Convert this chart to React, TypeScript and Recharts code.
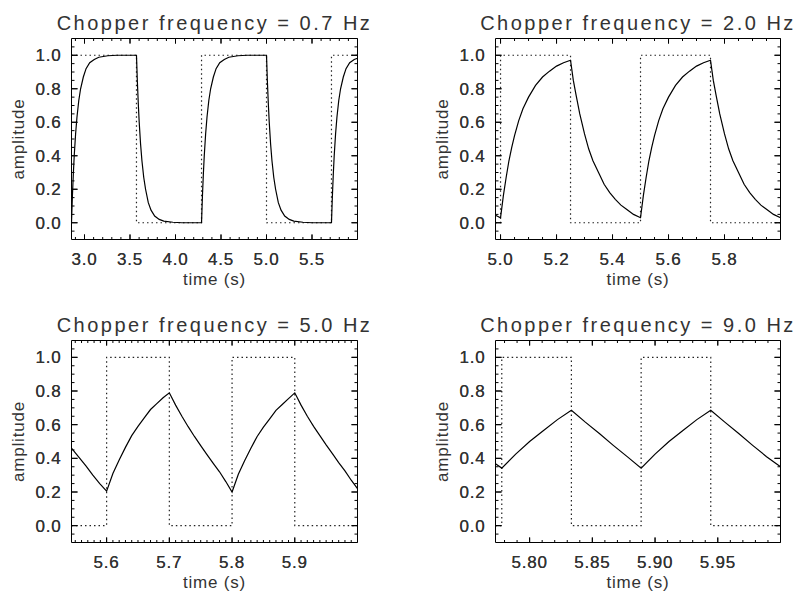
import React from "react";
import { LineChart, Line, XAxis, YAxis, Label } from "recharts";

// ---- values ----

// 0.7 Hz
const p1Time = [
  2.857, 2.867, 2.877, 2.887, 2.902, 2.917, 2.937, 2.957, 2.987, 3.017, 3.057, 3.107, 3.157, 3.257, 3.357, 3.571,
  3.581, 3.591, 3.601, 3.616, 3.631, 3.651, 3.671, 3.701, 3.731, 3.771, 3.821, 3.871, 3.971, 4.071, 4.286,
  4.296, 4.306, 4.316, 4.331, 4.346, 4.366, 4.386, 4.416, 4.446, 4.486, 4.536, 4.586, 4.686, 4.786, 5.0,
  5.01, 5.02, 5.03, 5.045, 5.06, 5.08, 5.1, 5.13, 5.16, 5.2, 5.25, 5.3, 5.4, 5.5, 5.714,
  5.724, 5.734, 5.744, 5.759, 5.774, 5.794, 5.814, 5.844, 5.874, 5.914, 5.964, 6.0,
];
const p1Signal = [
  0, 0.16, 0.29, 0.4, 0.53, 0.63, 0.73, 0.8, 0.87, 0.92, 0.955, 0.975, 0.988, 0.997, 1.0, 1.0,
  0.84, 0.71, 0.6, 0.47, 0.37, 0.27, 0.2, 0.12, 0.075, 0.04, 0.02, 0.01, 0.003, 0.0, 0.0,
  0.16, 0.29, 0.4, 0.53, 0.63, 0.73, 0.8, 0.87, 0.92, 0.955, 0.975, 0.988, 0.997, 1.0, 1.0,
  0.84, 0.71, 0.6, 0.47, 0.37, 0.27, 0.2, 0.12, 0.075, 0.04, 0.02, 0.01, 0.003, 0.0, 0.0,
  0.16, 0.29, 0.4, 0.53, 0.63, 0.73, 0.8, 0.87, 0.92, 0.955, 0.975, 0.982,
];
const p1ChopTime = [2.857, 3.571, 3.571, 4.286, 4.286, 5.0, 5.0, 5.714, 5.714, 6.0];
const p1ChopLevel = [1, 1, 0, 0, 1, 1, 0, 0, 1, 1];
const p1Ticks = [3.0, 3.5, 4.0, 4.5, 5.0, 5.5];

// 2.0 Hz
const p2Time = [
  4.982, 5.0, 5.01, 5.02, 5.03, 5.04, 5.05, 5.065, 5.08, 5.1, 5.125, 5.15, 5.175, 5.2, 5.225, 5.25,
  5.26, 5.27, 5.283, 5.3, 5.315, 5.33, 5.35, 5.37, 5.39, 5.41, 5.43, 5.45, 5.475, 5.5,
  5.51, 5.52, 5.53, 5.54, 5.55, 5.565, 5.58, 5.6, 5.625, 5.65, 5.675, 5.7, 5.725, 5.75,
  5.76, 5.77, 5.783, 5.8, 5.815, 5.83, 5.85, 5.87, 5.89, 5.91, 5.93, 5.95, 5.975, 6.0,
];
const p2Signal = [
  0.045, 0.03, 0.16, 0.27, 0.37, 0.45, 0.52, 0.61, 0.68, 0.75, 0.82, 0.87, 0.905, 0.935, 0.955, 0.97,
  0.85, 0.76, 0.65, 0.53, 0.44, 0.37, 0.3, 0.23, 0.18, 0.14, 0.105, 0.08, 0.05, 0.03,
  0.16, 0.27, 0.37, 0.45, 0.52, 0.61, 0.68, 0.75, 0.82, 0.87, 0.905, 0.935, 0.955, 0.97,
  0.85, 0.76, 0.65, 0.53, 0.44, 0.37, 0.3, 0.23, 0.18, 0.14, 0.105, 0.08, 0.05, 0.03,
];
const p2ChopTime = [4.982, 5.0, 5.0, 5.25, 5.25, 5.5, 5.5, 5.75, 5.75, 6.0];
const p2ChopLevel = [0, 0, 1, 1, 0, 0, 1, 1, 0, 0];
const p2Ticks = [5.0, 5.2, 5.4, 5.6, 5.8];

// 5.0 Hz
const p3Time = [
  5.544, 5.555, 5.567, 5.578, 5.589, 5.6,
  5.61, 5.62, 5.63, 5.64, 5.65, 5.66, 5.67, 5.68, 5.69, 5.7,
  5.71, 5.72, 5.73, 5.74, 5.75, 5.76, 5.77, 5.78, 5.79, 5.8,
  5.81, 5.82, 5.83, 5.84, 5.85, 5.86, 5.87, 5.88, 5.89, 5.9,
  5.91, 5.92, 5.93, 5.94, 5.95, 5.96, 5.97, 5.98, 5.99, 6.0,
];
const p3Signal = [
  0.46, 0.41, 0.355, 0.3, 0.25, 0.205,
  0.31, 0.39, 0.465, 0.535, 0.59, 0.64, 0.69, 0.725, 0.76, 0.789,
  0.716, 0.65, 0.588, 0.53, 0.475, 0.422, 0.37, 0.32, 0.262, 0.2,
  0.305, 0.385, 0.46, 0.53, 0.585, 0.635, 0.685, 0.72, 0.755, 0.789,
  0.716, 0.65, 0.59, 0.535, 0.48, 0.428, 0.375, 0.325, 0.27, 0.22,
];
const p3ChopTime = [5.544, 5.6, 5.6, 5.7, 5.7, 5.8, 5.8, 5.9, 5.9, 6.0];
const p3ChopLevel = [0, 0, 1, 1, 0, 0, 1, 1, 0, 0];
const p3Ticks = [5.6, 5.7, 5.8, 5.9];

// 9.0 Hz
const p4Time = [
  5.7728, 5.7778, 5.7889, 5.8, 5.8111, 5.8222, 5.8333, 5.8444, 5.8556, 5.8667, 5.8778,
  5.8889, 5.9, 5.9111, 5.9222, 5.9333, 5.9444, 5.9556, 5.9667, 5.9778, 5.9889, 6.0,
];
const p4Signal = [
  0.368, 0.342, 0.425, 0.5, 0.565, 0.63, 0.686, 0.615, 0.547, 0.477, 0.41,
  0.342, 0.425, 0.5, 0.565, 0.63, 0.686, 0.615, 0.547, 0.477, 0.41, 0.35,
];
const p4ChopTime = [5.7728, 5.7778, 5.7778, 5.8333, 5.8333, 5.8889, 5.8889, 5.9444, 5.9444, 6.0];
const p4ChopLevel = [0, 0, 1, 1, 0, 0, 1, 1, 0, 0];
const p4Ticks = [5.8, 5.85, 5.9, 5.95];

const ampTicks = [0, 0.2, 0.4, 0.6, 0.8, 1.0];

// ---- helpers ----

const FONT = '"Liberation Sans", Arial, Helvetica, sans-serif';
const INK = "#333";

const zip = (xs: number[], ys: number[]) => xs.map((x, i) => ({ x, y: ys[i] }));

// evenly spaced minor tick positions
const steps = (a: number, b: number, s: number) => {
  const n = Math.round((b - a) / s);
  const out: number[] = [];
  for (let i = 0; i <= n; i++) out.push(+(a + i * s).toFixed(4));
  return out;
};

const isMajor = (majors: number[], v: number) => majors.some((m) => Math.abs(m - v) < 1e-6);

const bottomTick = (majors: number[], digits: number) => (props: any) => {
  const { x, y, payload } = props;
  const major = isMajor(majors, payload.value);
  return (
    <g>
      <line x1={x} x2={x} y1={y} y2={y - (major ? 5 : 2.5)} stroke="#000" />
      {major && (
        <text x={x} y={y + 25} textAnchor="middle" fontSize={17} fill={INK} fontFamily={FONT} style={{ letterSpacing: "0.8px" }}>
          {payload.value.toFixed(digits)}
        </text>
      )}
    </g>
  );
};

const topTick = (majors: number[]) => (props: any) => {
  const { x, y, payload } = props;
  const major = isMajor(majors, payload.value);
  return <line x1={x} x2={x} y1={y} y2={y + (major ? 5 : 2.5)} stroke="#000" />;
};

const leftTick = (props: any) => {
  const { x, y, payload } = props;
  const major = isMajor(ampTicks, payload.value);
  return (
    <g>
      <line x1={x} x2={x + (major ? 6 : 3)} y1={y} y2={y} stroke="#000" />
      {major && (
        <text x={x - 10} y={y} dy="0.36em" textAnchor="end" fontSize={17} fill={INK} fontFamily={FONT} style={{ letterSpacing: "0.8px" }}>
          {payload.value.toFixed(1)}
        </text>
      )}
    </g>
  );
};

const rightTick = (props: any) => {
  const { x, y, payload } = props;
  const major = isMajor(ampTicks, payload.value);
  return <line x1={x} x2={x - (major ? 6 : 3)} y1={y} y2={y} stroke="#000" />;
};

const timeLabel = (props: any) => {
  const vb = props.viewBox;
  return (
    <text x={vb.x + vb.width / 2} y={vb.y + 45} textAnchor="middle" fontSize={17} fill={INK} fontFamily={FONT} style={{ letterSpacing: "0.8px" }}>
      time (s)
    </text>
  );
};

const ampLabel = (props: any) => {
  const vb = props.viewBox;
  const cx = vb.x + vb.width - 53;
  const cy = vb.y + vb.height / 2;
  return (
    <text x={cx} y={cy} dy="0.3em" transform={`rotate(-90 ${cx} ${cy})`} textAnchor="middle" fontSize={17} fill={INK} fontFamily={FONT} style={{ letterSpacing: "0.8px" }}>
      amplitude
    </text>
  );
};

const titleLabel = (title: string) => (props: any) => {
  const vb = props.viewBox;
  return (
    <text x={vb.x + vb.width / 2} y={vb.y + vb.height - 9} textAnchor="middle" fontSize={20} fill={INK} fontFamily={FONT} style={{ letterSpacing: "2.5px" }}>
      {title}
    </text>
  );
};

type PanelProps = {
  left: number;
  top: number;
  width: number;
  height: number;
  margin: { top: number; right: number; bottom: number; left: number };
  title: string;
  time: number[];
  signal: number[];
  chopTime: number[];
  chopLevel: number[];
  domain: [number, number];
  majors: number[];
  minors: number[];
  digits: number;
};

const ampMinor = steps(-0.05, 1.05, 0.05);

// axes are 1px thick so recharts still draws them; margins below already allow for that
const Panel = (p: PanelProps) => {
  const curve = zip(p.time, p.signal);
  const chop = zip(p.chopTime, p.chopLevel);
  const xTicks = [...p.minors, ...p.majors];
  const m = { top: p.margin.top - 1, right: p.margin.right - 1, bottom: p.margin.bottom - 1, left: p.margin.left - 1 };
  return (
    <div style={{ position: "absolute", left: p.left, top: p.top }}>
      <LineChart width={p.width} height={p.height} margin={m}>
        <XAxis
          dataKey="x"
          type="number"
          domain={p.domain}
          allowDataOverflow
          ticks={xTicks}
          interval={0}
          height={1}
          tickLine={false}
          tickSize={0}
          tickMargin={0}
          axisLine={{ stroke: "#000" }}
          tick={bottomTick(p.majors, p.digits)}
          label={<Label content={timeLabel} />}
        />
        <XAxis
          xAxisId="top"
          orientation="top"
          dataKey="x"
          type="number"
          domain={p.domain}
          allowDataOverflow
          ticks={xTicks}
          interval={0}
          height={1}
          tickLine={false}
          tickSize={0}
          tickMargin={0}
          axisLine={{ stroke: "#000" }}
          tick={topTick(p.majors)}
          label={<Label content={titleLabel(p.title)} />}
        />
        <YAxis
          type="number"
          domain={[-0.1, 1.1]}
          allowDataOverflow
          ticks={[...ampMinor, ...ampTicks]}
          interval={0}
          width={1}
          tickLine={false}
          tickSize={0}
          tickMargin={0}
          axisLine={{ stroke: "#000" }}
          tick={leftTick}
          label={<Label content={ampLabel} />}
        />
        <YAxis
          yAxisId="right"
          orientation="right"
          type="number"
          domain={[-0.1, 1.1]}
          allowDataOverflow
          ticks={[...ampMinor, ...ampTicks]}
          interval={0}
          width={1}
          tickLine={false}
          tickSize={0}
          tickMargin={0}
          axisLine={{ stroke: "#000" }}
          tick={rightTick}
        />
        <Line
          data={chop}
          dataKey="y"
          type="linear"
          stroke="#222"
          strokeWidth={1.2}
          strokeDasharray="1.5 3"
          dot={false}
          isAnimationActive={false}
        />
        <Line
          data={curve}
          dataKey="y"
          type="linear"
          stroke="#000"
          strokeWidth={1.2}
          dot={false}
          isAnimationActive={false}
        />
      </LineChart>
    </div>
  );
};

const App = () => {
  return (
    <div style={{ position: "absolute", left: 0, top: 0, width: 798, height: 593, background: "#fff" }}>
      <Panel
        left={0}
        top={0}
        width={399}
        height={300}
        margin={{ top: 38.5, right: 41.5, bottom: 60.5, left: 71.5 }}
        title="Chopper frequency = 0.7 Hz"
        time={p1Time}
        signal={p1Signal}
        chopTime={p1ChopTime}
        chopLevel={p1ChopLevel}
        domain={[2.857, 6.0]}
        majors={p1Ticks}
        minors={steps(2.9, 6.0, 0.1)}
        digits={1}
      />
      <Panel
        left={399}
        top={0}
        width={399}
        height={300}
        margin={{ top: 38.5, right: 17.5, bottom: 60.5, left: 96.5 }}
        title="Chopper frequency = 2.0 Hz"
        time={p2Time}
        signal={p2Signal}
        chopTime={p2ChopTime}
        chopLevel={p2ChopLevel}
        domain={[4.982, 6.0]}
        majors={p2Ticks}
        minors={steps(5.0, 6.0, 0.05)}
        digits={1}
      />
      <Panel
        left={0}
        top={300}
        width={399}
        height={293}
        margin={{ top: 40.5, right: 41.5, bottom: 50.5, left: 71.5 }}
        title="Chopper frequency = 5.0 Hz"
        time={p3Time}
        signal={p3Signal}
        chopTime={p3ChopTime}
        chopLevel={p3ChopLevel}
        domain={[5.544, 6.0]}
        majors={p3Ticks}
        minors={steps(5.55, 6.0, 0.01)}
        digits={1}
      />
      <Panel
        left={399}
        top={300}
        width={399}
        height={293}
        margin={{ top: 40.5, right: 17.5, bottom: 50.5, left: 96.5 }}
        title="Chopper frequency = 9.0 Hz"
        time={p4Time}
        signal={p4Signal}
        chopTime={p4ChopTime}
        chopLevel={p4ChopLevel}
        domain={[5.7728, 6.0]}
        majors={p4Ticks}
        minors={steps(5.78, 6.0, 0.01)}
        digits={2}
      />
    </div>
  );
};

export default App;
